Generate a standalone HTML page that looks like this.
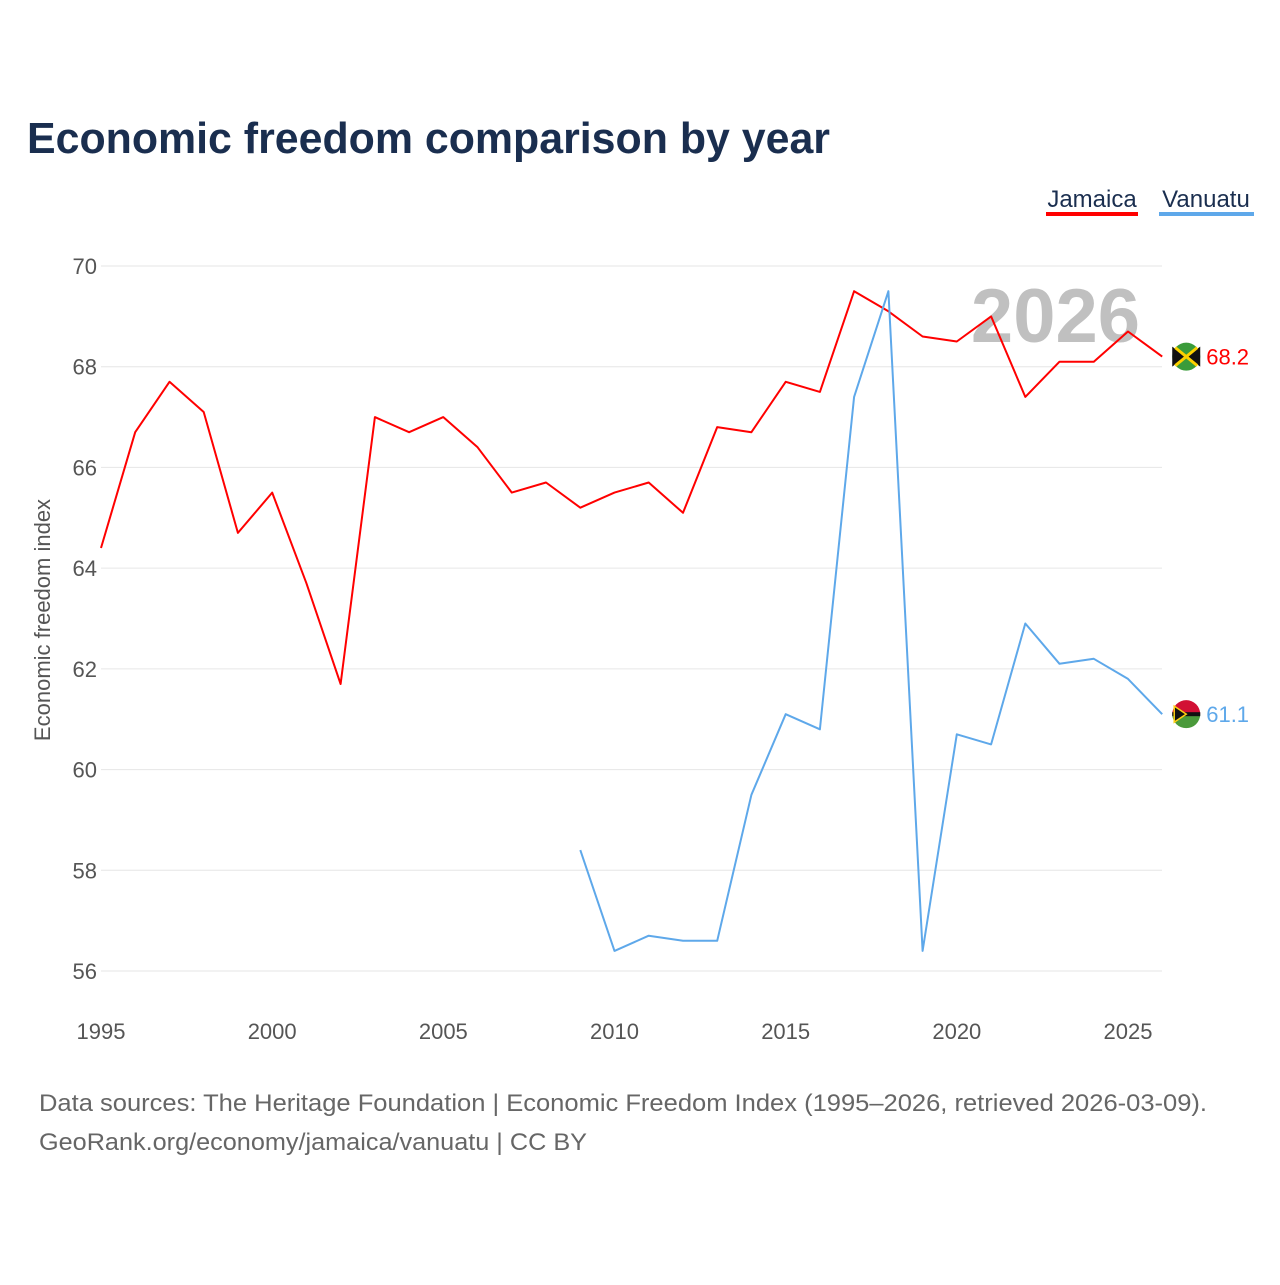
<!DOCTYPE html>
<html><head><meta charset="utf-8">
<style>
body{margin:0;background:#fff;font-family:"Liberation Sans",sans-serif;}
svg text{font-family:"Liberation Sans",sans-serif;}
</style></head>
<body>
<svg id="chart" width="1280" height="1280" viewBox="0 0 1280 1280" xmlns="http://www.w3.org/2000/svg">
<rect width="1280" height="1280" fill="#fff"/>
<text x="27" y="153" font-size="44" font-weight="bold" fill="#1a2e4f" textLength="803" lengthAdjust="spacingAndGlyphs">Economic freedom comparison by year</text>
<g>
<g>
<text x="1092" y="207" font-size="24" fill="#1a2e4f" text-anchor="middle">Jamaica</text>
<rect x="1046" y="212" width="92" height="4" fill="#ff0000"/>
</g>
<g>
<text x="1206" y="207" font-size="24" fill="#1a2e4f" text-anchor="middle">Vanuatu</text>
<rect x="1159" y="212" width="95" height="4" fill="#5ea8ea"/>
</g>
</g>
<text transform="translate(50,620) rotate(-90)" font-size="22" fill="#555" text-anchor="middle">Economic freedom index</text>
<text x="1140" y="342" font-size="76" font-weight="bold" fill="#c0c0c0" text-anchor="end">2026</text>
<g id="grid"></g>
<g id="series"></g>
<text x="39" y="1111" font-size="24" fill="#666" textLength="1168" lengthAdjust="spacingAndGlyphs">Data sources: The Heritage Foundation | Economic Freedom Index (1995–2026, retrieved 2026-03-09).</text>
<text x="39" y="1150" font-size="24" fill="#666" textLength="548" lengthAdjust="spacingAndGlyphs">GeoRank.org/economy/jamaica/vanuatu | CC BY</text>
</svg>
<script>
const years = [1995,1996,1997,1998,1999,2000,2001,2002,2003,2004,2005,2006,2007,2008,2009,2010,2011,2012,2013,2014,2015,2016,2017,2018,2019,2020,2021,2022,2023,2024,2025,2026];
const jamaica = [64.4,66.7,67.7,67.1,64.7,65.5,63.7,61.7,67.0,66.7,67.0,66.4,65.5,65.7,65.2,65.5,65.7,65.1,66.8,66.7,67.7,67.5,69.5,69.1,68.6,68.5,69.0,67.4,68.1,68.1,68.7,68.2];
const vanuatu = [null,null,null,null,null,null,null,null,null,null,null,null,null,null,58.4,56.4,56.7,56.6,56.6,59.5,61.1,60.8,67.4,69.5,56.4,60.7,60.5,62.9,62.1,62.2,61.8,61.1];
const yTicks = [56,58,60,62,64,66,68,70];
const xTicks = [1995,2000,2005,2010,2015,2020,2025];

const NS="http://www.w3.org/2000/svg";
const xs = y => 101 + (y-1995)*(1128-101)/30;
const ys = v => 266 + (70-v)*(971-266)/14;
const grid=document.getElementById('grid'), series=document.getElementById('series');
function mk(tag,attrs,parent){const e=document.createElementNS(NS,tag);for(const k in attrs)e.setAttribute(k,attrs[k]);parent.appendChild(e);return e;}
yTicks.forEach(v=>{
  const l=mk('line',{x1:101,x2:1162,y1:ys(v),y2:ys(v),stroke:'#e6e6e6','stroke-width':1},grid);
  
  
  const t=mk('text',{x:97,y:ys(v)+8,'font-size':22,fill:'#555','text-anchor':'end'},grid);
  
  
  t.textContent=v;
});
xTicks.forEach(y=>{
  const t=mk('text',{x:xs(y),y:1039,'font-size':22,fill:'#555','text-anchor':'middle'},grid);
  
  
  t.textContent=y;
});
function line(vals,color,name){
  let d='';let started=false;
  vals.forEach((v,i)=>{if(v==null)return;d+=(started?'L':'M')+xs(years[i]).toFixed(1)+','+ys(v).toFixed(1);started=true;});
  const p=mk('path',{d:d,fill:'none',stroke:color,'stroke-width':2,'stroke-linejoin':'round'},series);
  
  
  const last=vals[vals.length-1];
  const cx=xs(years[years.length-1])+24, cy=ys(last);
  return {cx,cy,last};
}
const j=line(jamaica,'#ff0000','jamaica-line');
const v=line(vanuatu,'#5ea8ea','vanuatu-line');
let g=mk('g',{},series);


mk('circle',{cx:j.cx,cy:j.cy,r:14,fill:'#3a9b3a'},g);
mk('path',{d:`M${j.cx-14},${j.cy-10}L${j.cx},${j.cy}L${j.cx-14},${j.cy+10}Z M${j.cx+14},${j.cy-10}L${j.cx},${j.cy}L${j.cx+14},${j.cy+10}Z`,fill:'#111'},g);
mk('path',{d:`M${j.cx-11},${j.cy-9}L${j.cx+11},${j.cy+9}M${j.cx+11},${j.cy-9}L${j.cx-11},${j.cy+9}`,stroke:'#fed100','stroke-width':3},g);
let t=mk('text',{x:j.cx+20,y:j.cy+8,'font-size':22,fill:'#ff0000'},series);


t.textContent=j.last.toFixed(1);
g=mk('g',{},series);


mk('path',{d:`M${v.cx-14},${v.cy}A14,14 0 0 1 ${v.cx+14},${v.cy}Z`,fill:'#d21034'},g);
mk('path',{d:`M${v.cx-14},${v.cy}A14,14 0 0 0 ${v.cx+14},${v.cy}Z`,fill:'#4a9a3a'},g);
mk('rect',{x:v.cx-14,y:v.cy-2,width:28,height:4,fill:'#111'},g);
mk('path',{d:`M${v.cx-12},${v.cy-8}L${v.cx},${v.cy}L${v.cx-12},${v.cy+8}Z`,fill:'#111',stroke:'#fdce12','stroke-width':1.5},g);
t=mk('text',{x:v.cx+20,y:v.cy+8,'font-size':22,fill:'#5ea8ea'},series);


t.textContent=v.last.toFixed(1);
</script>
</body></html>
